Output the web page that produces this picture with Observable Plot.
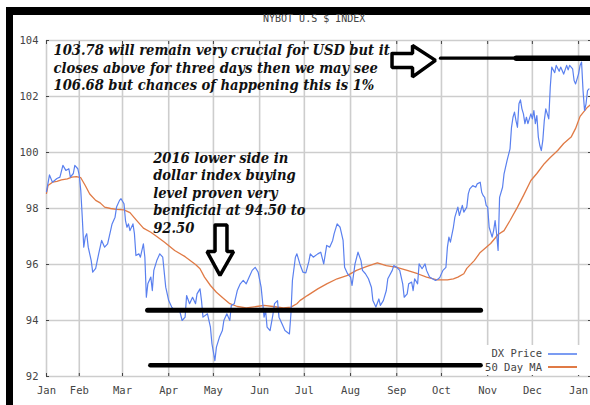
<!DOCTYPE html>
<html><head><meta charset="utf-8">
<script src="https://cdn.jsdelivr.net/npm/d3@7"></script>
<script src="https://cdn.jsdelivr.net/npm/@observablehq/plot@0.6"></script>
<style>
body{margin:0;background:#fff;}
#wrap{position:relative;width:590px;height:405px;overflow:hidden;background:#fff;}
#chart{position:absolute;left:0;top:0;}
.bar{position:absolute;background:#000;}
#title{position:absolute;left:263px;top:13px;font:10px "DejaVu Sans Mono",monospace;color:#444;white-space:nowrap;}
#legend{position:absolute;left:483px;top:345px;width:104px;height:30px;background:#fff;font:10.5px "DejaVu Sans Mono",monospace;color:#444;}
#legend .t{position:absolute;right:45px;white-space:nowrap;line-height:12px;}
#legend .s{position:absolute;left:65px;width:29px;}
</style></head><body>
<div id="wrap">
  <div id="chart"></div>
  <div class="bar" style="left:6px;top:7px;width:7px;height:398px"></div>
  <div class="bar" style="left:6px;top:7px;width:584px;height:8px"></div>
  <div id="title">NYBOT U.S $ INDEX</div>
  <div id="legend">
    <span class="t" style="top:2px">DX Price</span><span class="s" style="top:8px;height:1.5px;background:#7b9cf2"></span>
    <span class="t" style="top:16px">50 Day MA</span><span class="s" style="top:21px;height:1.6px;background:#e07a45"></span>
  </div>
</div>
<script>
const dxDates = ["2016-01-10","2016-01-12","2016-01-14","2016-01-17","2016-01-19","2016-01-21","2016-01-23","2016-01-25","2016-01-26","2016-01-28","2016-01-29","2016-01-31","2016-02-01","2016-02-02","2016-02-03","2016-02-04","2016-02-05","2016-02-06","2016-02-07","2016-02-09","2016-02-10","2016-02-12","2016-02-14","2016-02-15","2016-02-16","2016-02-18","2016-02-20","2016-02-22","2016-02-23","2016-02-25","2016-02-26","2016-02-28","2016-02-29","2016-03-02","2016-03-03","2016-03-04","2016-03-05","2016-03-06","2016-03-08","2016-03-09","2016-03-10","2016-03-12","2016-03-13","2016-03-15","2016-03-16","2016-03-17","2016-03-18","2016-03-20","2016-03-21","2016-03-22","2016-03-24","2016-03-26","2016-03-28","2016-03-30","2016-04-01","2016-04-03","2016-04-05","2016-04-08","2016-04-10","2016-04-12","2016-04-13","2016-04-15","2016-04-17","2016-04-19","2016-04-20","2016-04-22","2016-04-23","2016-04-24","2016-04-27","2016-04-29","2016-04-30","2016-05-02","2016-05-03","2016-05-05","2016-05-07","2016-05-08","2016-05-10","2016-05-12","2016-05-13","2016-05-15","2016-05-17","2016-05-19","2016-05-21","2016-05-23","2016-05-25","2016-05-27","2016-05-29","2016-05-31","2016-06-02","2016-06-04","2016-06-05","2016-06-06","2016-06-08","2016-06-10","2016-06-11","2016-06-13","2016-06-14","2016-06-16","2016-06-18","2016-06-21","2016-06-22","2016-06-23","2016-06-25","2016-06-26","2016-06-28","2016-06-30","2016-07-02","2016-07-04","2016-07-05","2016-07-07","2016-07-10","2016-07-12","2016-07-14","2016-07-16","2016-07-18","2016-07-20","2016-07-21","2016-07-23","2016-07-25","2016-07-27","2016-07-28","2016-07-30","2016-08-01","2016-08-02","2016-08-04","2016-08-06","2016-08-08","2016-08-09","2016-08-11","2016-08-13","2016-08-15","2016-08-16","2016-08-18","2016-08-20","2016-08-21","2016-08-23","2016-08-25","2016-08-26","2016-08-29","2016-08-30","2016-09-01","2016-09-03","2016-09-05","2016-09-06","2016-09-08","2016-09-09","2016-09-11","2016-09-12","2016-09-13","2016-09-15","2016-09-16","2016-09-18","2016-09-20","2016-09-21","2016-09-23","2016-09-25","2016-09-27","2016-09-29","2016-09-30","2016-10-02","2016-10-04","2016-10-05","2016-10-06","2016-10-07","2016-10-09","2016-10-10","2016-10-12","2016-10-13","2016-10-15","2016-10-16","2016-10-18","2016-10-19","2016-10-20","2016-10-22","2016-10-24","2016-10-25","2016-10-27","2016-10-28","2016-10-29","2016-10-30","2016-10-31","2016-11-01","2016-11-02","2016-11-04","2016-11-05","2016-11-06","2016-11-07","2016-11-08","2016-11-09","2016-11-11","2016-11-12","2016-11-14","2016-11-16","2016-11-17","2016-11-18","2016-11-19","2016-11-20","2016-11-21","2016-11-22","2016-11-23","2016-11-24","2016-11-25","2016-11-26","2016-11-27","2016-11-28","2016-11-30","2016-12-01","2016-12-02","2016-12-03","2016-12-04","2016-12-05","2016-12-06","2016-12-07","2016-12-08","2016-12-09","2016-12-10","2016-12-11","2016-12-12","2016-12-13","2016-12-14","2016-12-16","2016-12-17","2016-12-19","2016-12-20","2016-12-22","2016-12-24","2016-12-25","2016-12-26","2016-12-28","2016-12-29","2016-12-30","2017-01-01","2017-01-02","2017-01-03","2017-01-04","2017-01-05","2017-01-06","2017-01-07","2017-01-08"];
const dxValues = [98.60,99.20,98.94,99.07,99.12,99.54,99.36,99.42,99.12,99.25,99.54,99.42,99.18,98.64,97.69,96.62,96.98,97.10,96.62,96.14,95.73,95.86,96.38,96.62,96.86,96.62,96.74,97.21,97.45,97.69,98.05,98.29,98.35,98.17,97.57,97.33,97.45,97.21,97.45,97.10,96.32,96.38,96.26,96.74,96.26,94.83,95.31,95.55,95.07,95.79,96.14,96.38,96.26,95.19,94.71,94.48,94.36,94.42,94.00,94.12,94.89,94.60,94.83,94.60,94.95,95.13,94.71,94.12,94.24,93.76,93.17,92.57,93.05,93.40,93.64,94.00,94.24,94.00,94.54,94.60,95.07,95.31,95.43,95.31,95.55,95.79,95.90,95.73,95.19,94.12,94.36,93.76,93.64,94.24,94.60,94.71,94.12,93.88,93.64,93.52,94.24,95.43,96.26,96.38,96.02,95.73,95.70,96.10,96.38,96.26,96.38,96.44,96.02,96.68,96.62,96.86,97.10,97.45,97.33,96.86,95.90,95.67,95.55,95.25,96.02,96.44,96.14,95.79,95.67,95.49,95.19,94.71,94.48,94.77,94.54,94.71,95.07,95.49,95.79,95.96,95.90,95.79,95.31,94.83,94.95,95.31,95.37,95.07,95.49,95.31,96.02,95.85,96.02,95.79,95.55,95.49,95.43,95.49,95.55,95.79,95.90,96.62,96.98,96.80,97.33,97.69,98.05,97.75,98.11,97.87,98.05,98.52,98.70,98.82,98.76,98.88,98.94,98.58,98.46,98.40,98.11,98.05,97.33,96.98,97.21,97.57,97.10,96.50,98.40,98.76,99.24,99.71,100.13,100.90,101.26,101.44,101.14,100.90,101.74,101.88,101.56,101.38,101.03,101.26,101.03,101.38,101.20,101.50,101.03,101.32,100.55,100.25,100.07,100.43,101.14,101.56,101.38,101.20,102.33,103.05,102.85,103.11,102.90,103.05,102.80,103.11,102.95,103.11,102.99,102.57,102.45,102.81,103.11,103.23,102.21,101.50,101.74,102.21,102.27];

const maDates = ["2016-01-10","2016-01-11","2016-01-14","2016-01-17","2016-01-20","2016-01-24","2016-01-27","2016-01-30","2016-02-02","2016-02-05","2016-02-08","2016-02-12","2016-02-15","2016-02-18","2016-02-22","2016-02-26","2016-03-02","2016-03-06","2016-03-10","2016-03-15","2016-03-20","2016-03-24","2016-03-29","2016-04-05","2016-04-12","2016-04-19","2016-04-22","2016-04-25","2016-04-29","2016-05-03","2016-05-08","2016-05-12","2016-05-17","2016-05-23","2016-05-30","2016-06-04","2016-06-10","2016-06-17","2016-06-22","2016-06-26","2016-06-28","2016-07-03","2016-07-10","2016-07-16","2016-07-23","2016-07-30","2016-08-05","2016-08-12","2016-08-19","2016-08-25","2016-09-01","2016-09-08","2016-09-15","2016-09-21","2016-09-28","2016-10-05","2016-10-09","2016-10-12","2016-10-16","2016-10-18","2016-10-23","2016-10-27","2016-11-03","2016-11-08","2016-11-12","2016-11-16","2016-11-21","2016-11-25","2016-11-30","2016-12-04","2016-12-09","2016-12-13","2016-12-18","2016-12-22","2016-12-27","2016-12-30","2017-01-02","2017-01-07","2017-01-09"];
const maValues = [98.54,98.82,98.94,98.97,99.02,99.06,99.12,99.14,99.10,98.82,98.52,98.29,98.20,98.05,98.00,97.97,97.95,97.85,97.60,97.30,97.15,97.00,96.80,96.50,96.28,96.00,95.85,95.55,95.25,95.01,94.78,94.60,94.50,94.45,94.50,94.54,94.50,94.45,94.48,94.60,94.71,94.89,95.13,95.31,95.49,95.61,95.79,95.93,96.06,95.96,95.90,95.79,95.67,95.55,95.45,95.45,95.49,95.55,95.67,95.86,96.14,96.43,96.75,97.07,97.21,97.57,98.05,98.46,99.00,99.25,99.60,99.82,100.07,100.32,100.55,100.86,101.29,101.62,101.71];

const monthTicks = ["2016-01-10","2016-02-01","2016-03-01","2016-04-01","2016-05-01","2016-06-01","2016-07-01","2016-08-01","2016-09-01","2016-10-01","2016-11-01","2016-12-01","2017-01-01"];
const yTicks = [92,94,96,98,100,102,104];

// horizontal level lines drawn on the chart
const levelStart = ["2016-09-30T16:00","2016-11-20T12:00","2016-03-18T04:00","2016-03-20T00:00"];
const levelEnd = ["2017-01-09","2017-01-09","2016-10-27T14:00","2016-10-27T14:00"];
const levelValue = [103.37,103.37,94.37,92.40];

// outlined block arrows
const rightArrowDates = ["2016-08-28T20:00","2016-09-11T14:00","2016-09-11T14:00","2016-09-27T00:00","2016-09-11T14:00","2016-09-11T14:00","2016-08-28T20:00","2016-08-28T20:00"];
const rightArrowValues = [103.54,103.54,103.82,103.29,102.70,103.04,103.04,103.54];
const downArrowDates = ["2016-05-02T02:00","2016-05-10T02:00","2016-05-10T02:00","2016-05-14T12:00","2016-05-05T10:00","2016-04-26T17:00","2016-05-02T02:00","2016-05-02T02:00"];
const downArrowValues = [97.41,97.41,96.46,96.46,95.61,96.46,96.46,97.41];

const noteTexts = [
  "103.78 will remain very crucial for USD but it\ncloses above for three days then we may see\n106.68 but chances of happening this is 1%",
  "2016 lower side in\ndollar index buying\nlevel proven very\nbenificial at 94.50 to\n92.50"
];
const noteDates = ["2016-01-14T17:00","2016-03-21T14:00"];
const noteValues = [103.05,98.58];

const P = s => new Date(s.length > 10 ? s + ":00Z" : s + "T00:00:00Z");

const dx = dxDates.map((d, i) => ({date: P(d), value: dxValues[i]}));
const ma = maDates.map((d, i) => ({date: P(d), value: maValues[i]}));
const levels = levelStart.map((d, i) => ({x1: P(d), x2: P(levelEnd[i]), y: levelValue[i], i}));
const rArrow = rightArrowDates.map((d, i) => ({date: P(d), value: rightArrowValues[i]}));
const dArrow = downArrowDates.map((d, i) => ({date: P(d), value: downArrowValues[i]}));
const notes = noteTexts.map((t, i) => ({text: t, date: P(noteDates[i]), value: noteValues[i]}));
const mTicks = monthTicks.map(P);

const gridStyle = {stroke: "#cdcdcd", strokeOpacity: 1, strokeWidth: 1.6};
const chart = Plot.plot({
  width: 590,
  height: 405,
  marginTop: 40,
  marginBottom: 29,
  marginLeft: 46,
  marginRight: 0,
  style: {fontFamily: "'DejaVu Sans Mono', monospace", fontSize: "10.5px", background: "transparent", color: "#444"},
  x: {type: "utc", domain: [P("2016-01-10"), P("2017-01-09")]},
  y: {domain: [92, 104]},
  marks: [
    Plot.gridX(mTicks, gridStyle),
    Plot.gridY(yTicks, gridStyle),
    Plot.axisX(mTicks, {anchor: "bottom", tickSize: -3, tickPadding: 13, tickFormat: d3.utcFormat("%b"), label: null, color: "#444"}),
    Plot.axisX(mTicks, {anchor: "top", tickSize: -3, tickFormat: () => "", label: null, color: "#444"}),
    Plot.axisY(yTicks, {anchor: "left", tickSize: -3, tickPadding: 11, label: null, color: "#444"}),
    Plot.axisY(yTicks, {anchor: "right", tickSize: -3, tickFormat: () => "", label: null, color: "#444"}),
    Plot.line(ma, {x: "date", y: "value", stroke: "#e07a45", strokeWidth: 1.3}),
    Plot.line(dx, {x: "date", y: "value", stroke: "#5a80ef", strokeWidth: 1.2}),
    Plot.ruleY(levels, {x1: "x1", x2: "x2", y: "y", stroke: "black", strokeWidth: d => [3.2, 5.5, 5, 4.5][d.i], strokeLinecap: "round"}),
    Plot.line(rArrow, {x: "date", y: "value", stroke: "black", strokeWidth: 3.5, fill: "white", strokeLinejoin: "miter"}),
    Plot.line(dArrow, {x: "date", y: "value", stroke: "black", strokeWidth: 3.5, fill: "white", strokeLinejoin: "miter"}),
    Plot.text(notes, {x: "date", y: "value", text: "text", textAnchor: "start", lineAnchor: "middle", lineHeight: 1.2, fontFamily: "'DejaVu Serif Condensed', 'DejaVu Serif', serif", fontWeight: "bold", fontStyle: "italic", fontSize: 14.6, fill: "#111"})
  ]
});
document.getElementById("chart").appendChild(chart);
</script>
</body></html>
